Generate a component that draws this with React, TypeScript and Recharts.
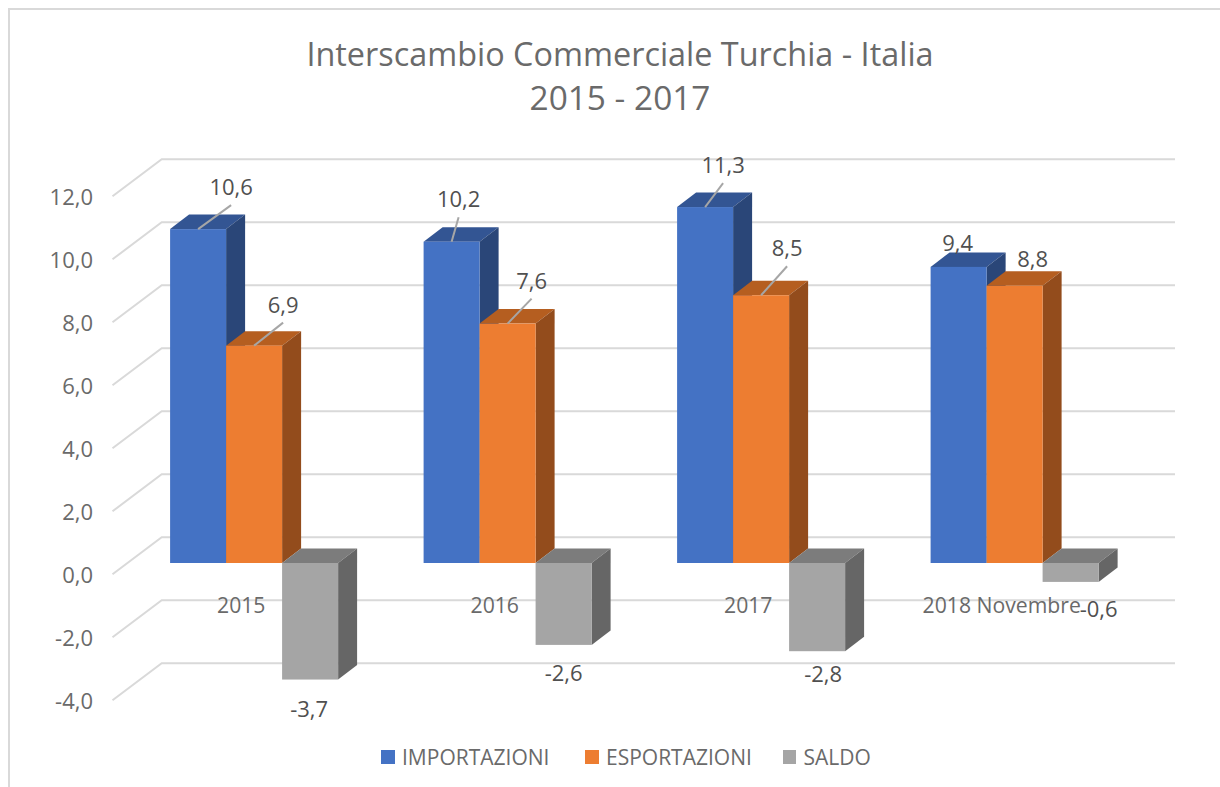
import { BarChart, Bar, XAxis, YAxis, CartesianGrid, Legend, LabelList } from "recharts"

const categories = ["2015", "2016", "2017", "2018 Novembre"]
const importazioni = [10.6, 10.2, 11.3, 9.4]
const esportazioni = [6.9, 7.6, 8.5, 8.8]
const saldo = [-3.7, -2.6, -2.8, -0.6]
const yTicks = [-4, -2, 0, 2, 4, 6, 8, 10, 12]
const titleLines = ["Interscambio Commerciale Turchia - Italia", "2015 - 2017"]

const data = categories.map((category, i) => ({
	category,
	importazioni: importazioni[i],
	esportazioni: esportazioni[i],
	saldo: saldo[i],
}))

// extrusion of the bars and of the floor/wall planes
const DEPTH_X = 19
const DEPTH_Y = 14.5
const GRID_BACK = 25.7
const GRID_FRONT = 11.3
const GRID_LEFT = 112.5
const GRID_BACK_X = 161.7
const GRID_RIGHT = 1175

const FONT = "'Open Sans', sans-serif"
const AXIS_COLOR = "#6a6a6a"
const LABEL_COLOR = "#505050"

const series = [
	{ key: "importazioni", name: "IMPORTAZIONI", front: "#4472C4", top: "#335593", side: "#2A4678" },
	{ key: "esportazioni", name: "ESPORTAZIONI", front: "#ED7D31", top: "#B55E20", side: "#934C1C" },
	{ key: "saldo", name: "SALDO", front: "#A5A5A5", top: "#7C7C7C", side: "#666666" },
]

// where each value label sits relative to the end of its bar
const labelOffsets: Record<string, number[][]> = {
	importazioni: [[33, -43], [7, -43.5], [18, -43], [-1, -25]],
	esportazioni: [[29, -42], [24, -44], [26, -48], [18, -28]],
	saldo: [[-1, 28], [0, 27], [6, 22], [28, 26]],
}

const legendLefts = [381, 585, 782.5]

const fmt = (v: number) => v.toFixed(1).replace(".", ",")

function Bar3D(props: any, s: (typeof series)[number]) {
	const { x, y, width, height } = props
	const top = Math.min(y, y + height)
	const h = Math.abs(height)
	const r = x + width
	return (
		<g>
			<polygon
				points={`${x},${top} ${x + DEPTH_X},${top - DEPTH_Y} ${r + DEPTH_X},${top - DEPTH_Y} ${r},${top}`}
				fill={s.top}
			/>
			<polygon
				points={`${r},${top} ${r + DEPTH_X},${top - DEPTH_Y} ${r + DEPTH_X},${top + h - DEPTH_Y} ${r},${top + h}`}
				fill={s.side}
			/>
			<rect x={x} y={top} width={width} height={h} fill={s.front} />
		</g>
	)
}

function ValueLabel(props: any, key: string) {
	const { x, y, width, height, value, index } = props
	const [dx, dy] = labelOffsets[key][index]
	const cx = x + width / 2
	const end = value < 0 ? Math.max(y, y + height) : Math.min(y, y + height)
	const hasLeader = value > 0 && dy < -30
	return (
		<g>
			{hasLeader && (
				<line x1={cx} y1={end} x2={cx + dx} y2={end + dy + 19} stroke="#A6A6A6" strokeWidth={2} />
			)}
			<text
				x={cx + dx}
				y={end + dy}
				textAnchor="middle"
				dominantBaseline="central"
				fontFamily={FONT}
				fontSize={22}
				fill={LABEL_COLOR}
			>
				{fmt(value)}
			</text>
		</g>
	)
}

function GridLine(props: any) {
	const { y1 } = props
	return (
		<polyline
			points={`${GRID_LEFT},${y1 + GRID_FRONT} ${GRID_BACK_X},${y1 - GRID_BACK} ${GRID_RIGHT},${y1 - GRID_BACK}`}
			fill="none"
			stroke="#D9D9D9"
			strokeWidth={2}
		/>
	)
}

function YTick(props: any) {
	const { y, payload } = props
	return (
		<text
			x={93}
			y={y + 11.3}
			textAnchor="end"
			dominantBaseline="central"
			fontFamily={FONT}
			fontSize={22}
			fill={AXIS_COLOR}
		>
			{fmt(payload.value)}
		</text>
	)
}

function XTick(props: any) {
	const { x, y, payload } = props
	return (
		<text
			x={x - 13.5}
			y={y - 84.5}
			textAnchor="middle"
			dominantBaseline="central"
			fontFamily={FONT}
			fontSize={21.2}
			fill={AXIS_COLOR}
		>
			{payload.value}
		</text>
	)
}

function LegendRow() {
	return (
		<div style={{ position: "relative", height: 20, width: 1220 }}>
			{series.map((s, i) => (
				<div
					key={s.key}
					style={{
						position: "absolute",
						left: legendLefts[i],
						top: 0,
						display: "flex",
						alignItems: "center",
						height: 20,
						fontFamily: FONT,
						fontSize: 21,
						color: AXIS_COLOR,
						whiteSpace: "nowrap",
					}}
				>
					<span style={{ width: 13.5, height: 13.5, background: s.front, marginRight: 7.5 }} />
					{s.name}
				</div>
			))}
		</div>
	)
}

export default function App() {
	return (
		<div style={{ position: "absolute", left: 0, top: 0, width: 1220, height: 787, background: "#fff", overflow: "hidden" }}>
			{/* outer frame, only top and left are in the crop */}
			<div
				style={{
					position: "absolute",
					left: 7.5,
					top: 7.5,
					right: 0,
					bottom: 0,
					borderTop: "2px solid #D9D9D9",
					borderLeft: "2px solid #D9D9D9",
				}}
			/>
			<div style={{ position: "absolute", left: 0, top: 0 }}>
				<BarChart
					width={1220}
					height={787}
					data={data}
					margin={{ top: 185, right: 78, bottom: 48, left: 0 }}
					barCategoryGap={42.1}
					barGap={0}
				>
					<CartesianGrid vertical={false} horizontal={GridLine} />
					<XAxis dataKey="category" height={30} tickLine={false} axisLine={false} tickSize={0} tickMargin={0} interval={0} tick={XTick} />
					<YAxis
						width={128}
						domain={[-4, 12]}
						ticks={yTicks}
						interval={0}
						tickLine={false}
						axisLine={false}
						tick={YTick}
					/>
					<Legend
						content={LegendRow}
						verticalAlign="bottom"
						wrapperStyle={{ left: 0, width: 1220, top: 747 }}
					/>
					{series.map((s) => (
						<Bar
							key={s.key}
							dataKey={s.key}
							name={s.name}
							fill={s.front}
							isAnimationActive={false}
							shape={(p: any) => Bar3D(p, s)}
						>
							<LabelList dataKey={s.key} content={(p: any) => ValueLabel(p, s.key)} />
						</Bar>
					))}
					{titleLines.map((line, i) => (
						<text
							key={line}
							x={620}
							y={53 + i * 44}
							textAnchor="middle"
							dominantBaseline="central"
							fontFamily={FONT}
							fontSize={i === 0 ? 32.4 : 33.4}
							fill={AXIS_COLOR}
						>
							{line}
						</text>
					))}
				</BarChart>
			</div>
		</div>
	)
}
